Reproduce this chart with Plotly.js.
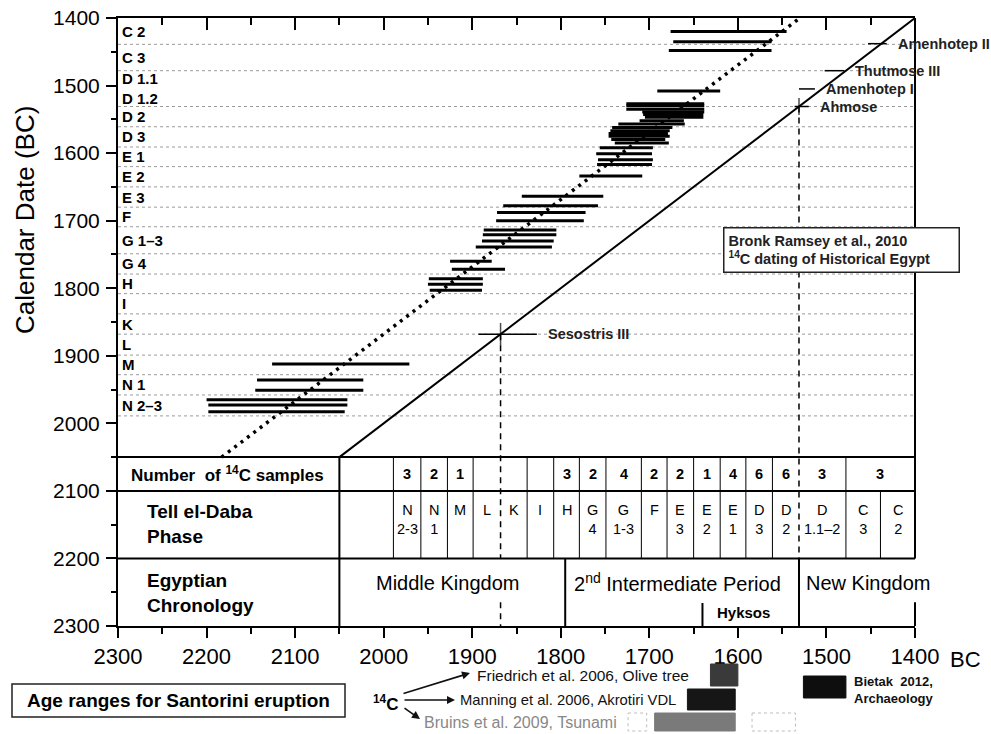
<!DOCTYPE html>
<html><head><meta charset="utf-8">
<script src="https://cdn.plot.ly/plotly-3.0.1.min.js"></script>
<style>html,body{margin:0;padding:0;background:#fff}#chart{width:991px;height:734px}</style>
</head><body><div id="chart"></div>
<script>
// Tell el-Daba phase boundaries (calendar years BC), C 2 at top ... N 2-3 at bottom
const phaseBounds = [1400,1439,1478,1531,1561,1591,1620,1650,1680,1709,1749,1779,1808,1838,1868,1899,1928,1958,1989];
const rowLabels   = ["C 2","C 3","D 1.1<br>D 1.2","D 2","D 3","E 1","E 2","E 3","F","G 1–3","G 4","H","I","K","L","M","N 1","N 2–3"];
const cellLabels  = ["C<br>2","C<br>3","D<br>1.1–2","D<br>2","D<br>3","E<br>1","E<br>2","E<br>3","F","G<br>1-3","G<br>4","H","I","K","L","M","N<br>1","N<br>2-3"];
// number of 14C samples (C 2 + C 3 merged)
const countBounds = [1400,1478,1531,1561,1591,1620,1650,1680,1709,1749,1779,1808,1838,1868,1899,1928,1958,1989];
const counts      = ["3","3","6","6","4","1","2","2","4","2","3","","","","1","2","3"];

// 14C sample ranges: calendar (historical) date, oldest and youngest 14C date
const sampleCal   = [1420,1435,1448, 1508,1527,1530, 1535,1539,1543,1547,1552,1557, 1562,1567,1571,1575,1580,1585, 1592,1601,1610,1617, 1634, 1664,1678, 1688,1700, 1714,1721,1730,1739, 1760,1772, 1786,1794,1803, 1912, 1936,1951, 1965,1973,1983];
const sampleOld   = [1676,1673,1678, 1691,1726,1726, 1726,1708,1707,1705,1711,1735, 1742,1744,1746,1746,1743,1739, 1756,1760,1758,1759, 1779, 1844,1865, 1872,1873, 1887,1888,1889,1896, 1925,1923, 1949,1950,1948, 2126, 2143,2145, 2200,2198,2198];
const sampleYoung = [1545,1562,1562, 1620,1638,1638, 1638,1638,1639,1639,1661,1660, 1674,1677,1679,1677,1682,1678, 1696,1697,1696,1697, 1708, 1752,1758, 1772,1774, 1805,1805,1808,1810, 1878,1863, 1888,1888,1889, 1971, 2023,2023, 2041,2041,2044];

// 1:1 line and Tell el-Daba trend (dotted)
const diagX = [2050,1400], diagY = [2050,1400];
const dotX  = [2183,1530], dotY  = [2050,1400];

// Bronk Ramsey et al. 2010 kings
const kings     = ["Sesostris III","Ahmose","Amenhotep I","Thutmose III","Amenhotep II"];
const kingCal   = [1868,1531,1505,1478,1438];
const kingOld   = [1893,1536,1531,1502,1453];
const kingYoung = [1827,1520,1513,1480,1432];
const kingCross = [16,12,0,0,0];

// Egyptian chronology
const periodNames  = ["Middle Kingdom","2<sup>nd</sup> Intermediate Period","New Kingdom"];
const periodBounds = [2050,1795,1531,1400];
const periodTextX  = [1928,1668,1453];
const hyksosStart  = 1640;

// Santorini eruption age ranges
const rangeNames = ["Friedrich","Manning","Bruins a","Bruins b","Bruins c","Bietak"];
const rangeOld   = [1631,1657,1724,1694,1584,1526];
const rangeYoung = [1600,1603,1703,1603,1535,1478];

const BLK = '#000';
const sx=[], sy=[];
for (let i=0;i<sampleCal.length;i++){ sx.push(sampleOld[i],sampleYoung[i],null); sy.push(sampleCal[i],sampleCal[i],null); }
const kx=[], ky=[];
for (let i=0;i<kings.length;i++){ kx.push(kingOld[i],kingYoung[i],null); ky.push(kingCal[i],kingCal[i],null); }
const cx=[], cy=[], cs=[];
for (let i=0;i<kings.length;i++){ if(kingCross[i]){ cx.push(kingCal[i]); cy.push(kingCal[i]); cs.push(kingCross[i]); } }

const traces = [
  {x:sx, y:sy, mode:'lines', line:{color:BLK,width:3}, hoverinfo:'skip'},
  {x:diagX, y:diagY, mode:'lines', line:{color:BLK,width:2}, hoverinfo:'skip'},
  {x:dotX, y:dotY, mode:'lines', line:{color:BLK,width:3.5,dash:'3px,5px'}, hoverinfo:'skip', xaxis:'x2'},
  {x:kx, y:ky, mode:'lines', line:{color:BLK,width:1.5}, hoverinfo:'skip'},
  {x:cx, y:cy, mode:'markers', marker:{symbol:'line-ns-open', size:cs, color:BLK, line:{color:BLK,width:1.5}}, hoverinfo:'skip'}
];

const shapes = [];
const L = (o)=>shapes.push(Object.assign({type:'line', xref:'x', yref:'y', line:{color:BLK,width:1}}, o));
for (let i=1;i<phaseBounds.length;i++) L({x0:2300,x1:1400,y0:phaseBounds[i],y1:phaseBounds[i],line:{color:'#9a9a9a',width:1,dash:'dot'},layer:'below'});
[2050,2100,2200].forEach(v=>L({x0:2300,x1:1400,y0:v,y1:v,line:{color:BLK,width:2}}));
L({x0:2050,x1:2050,y0:2050,y1:2300,line:{color:BLK,width:2}});
countBounds.slice(1).forEach(b=>{ if(b!==1868 && b!==1531) L({x0:b,x1:b,y0:2050,y1:2100}); });
phaseBounds.slice(1).forEach(b=>{ if(b!==1868 && b!==1531) L({x0:b,x1:b,y0:2100,y1:2200}); });
L({x0:1868,x1:1868,y0:1868,y1:2200,line:{color:BLK,width:1.5,dash:'6px,5px'}});
L({x0:1868,x1:1868,y0:2265,y1:2300,line:{color:BLK,width:1.5,dash:'6px,5px'}});
L({x0:1531,x1:1531,y0:1531,y1:2200,line:{color:BLK,width:1.5,dash:'6px,5px'}});
L({x0:periodBounds[2],x1:periodBounds[2],y0:2200,y1:2300,line:{color:BLK,width:2}});
L({x0:periodBounds[1],x1:periodBounds[1],y0:2200,y1:2300,line:{color:BLK,width:2}});
L({x0:hyksosStart,x1:hyksosStart,y0:2266,y1:2300,line:{color:BLK,width:2}});
shapes.push({type:'line',xref:'paper',yref:'y',x0:1,x1:1,y0:1400,y1:2200,line:{color:BLK,width:2}});
shapes.push({type:'line',xref:'paper',yref:'y',x0:1,x1:1,y0:2265,y1:2300,line:{color:BLK,width:2}});

// bottom legend
const py = p => (626-p)/608, px = p => (p-118)/797;
shapes.push({type:'rect',xref:'paper',yref:'paper',x0:px(12),x1:px(345),y0:py(684),y1:py(717),line:{color:'#222',width:1.5},fillcolor:'#fff'});
const rectY = [[664,686],[689,710],[713,731],[713,731],[713,731],[676,698]];
const rectFill = ['#3a3a3a','#161616','#ffffff','#7a7a7a','#ffffff','#0e0e0e'];
const rectLine = ['#3a3a3a','#161616','#bdbdbd','#7a7a7a','#bdbdbd','#0e0e0e'];
for (let i=0;i<rangeNames.length;i++){
  shapes.push({type:'rect',xref:'x',yref:'paper',x0:rangeOld[i],x1:rangeYoung[i],y0:py(rectY[i][0]),y1:py(rectY[i][1]),fillcolor:rectFill[i],line:{color:rectLine[i],width:1,dash:(rectFill[i]==='#ffffff'?'dot':'solid')}});
}

const F = 'Liberation Sans, Arial, sans-serif';
const FN = 'Liberation Sans Narrow, Arial Narrow, Liberation Sans, Arial, sans-serif';
const ann = [];
const A = (o)=>ann.push(Object.assign({xref:'x',yref:'y',showarrow:false,xanchor:'center',yanchor:'middle',font:{family:F,size:13,color:BLK}}, o));

for (let i=0;i<rowLabels.length;i++) A({x:2300,y:(phaseBounds[i]+(phaseBounds[i+1]||2019))/2,text:rowLabels[i],xanchor:'left',xshift:2,align:'left',font:{family:F,size:15,color:BLK,weight:'bold'}});
for (let i=0;i<cellLabels.length;i++) A({x:(phaseBounds[i]+(phaseBounds[i+1]||2019))/2,y:2113,yanchor:'top',text:cellLabels[i],font:{family:F,size:14.5,color:BLK}});
for (let i=0;i<counts.length;i++) if(counts[i]) A({x:(countBounds[i]+countBounds[i+1])/2,y:2075,text:counts[i],font:{family:F,size:14.5,color:BLK,weight:'bold'}});
A({x:2176,y:2075,text:'Number\u00a0\u00a0of <sup>14</sup>C samples',font:{family:F,size:17,color:BLK,weight:'bold'}});
A({x:2270,y:2130,text:'Tell el-Daba',xanchor:'left',font:{family:F,size:19,color:BLK,weight:'bold'}});
A({x:2270,y:2168,text:'Phase',xanchor:'left',font:{family:F,size:19,color:BLK,weight:'bold'}});
A({x:2270,y:2232,text:'Egyptian',xanchor:'left',font:{family:F,size:19,color:BLK,weight:'bold'}});
A({x:2270,y:2269,text:'Chronology',xanchor:'left',font:{family:F,size:19,color:BLK,weight:'bold'}});
for (let i=0;i<periodNames.length;i++) A({x:periodTextX[i],y:2236,text:periodNames[i],font:{family:F,size:20,color:BLK}});
A({x:1594,y:2280,text:'Hyksos',font:{family:F,size:15,color:BLK,weight:'bold'}});
for (let i=0;i<kings.length;i++) A({x:kingYoung[i],y:kingCal[i],text:kings[i],xanchor:'left',xshift:9,font:{family:F,size:14.5,color:'#222',weight:'bold'}});
A({x:1483,y:1743,text:'Bronk Ramsey et al., 2010<br><sup>14</sup>C dating of Historical Egypt',align:'left',bgcolor:'#fff',bordercolor:'#222',borderwidth:1.5,borderpad:4,width:226,font:{family:F,size:14.5,color:'#222',weight:'bold'}});

const P = (o)=>ann.push(Object.assign({xref:'paper',yref:'paper',showarrow:false,xanchor:'center',yanchor:'middle'}, o));
P({x:px(25),y:py(220),text:'Calendar Date (BC)',textangle:-90,font:{family:F,size:26,color:BLK}});
P({x:px(965),y:py(659),text:'BC',font:{family:FN,size:22,color:BLK}});
P({x:px(178),y:py(700),text:'Age ranges for Santorini eruption',font:{family:FN,size:19,color:BLK,weight:'bold'}});
P({x:px(386),y:py(703),text:'<sup>14</sup>C',font:{family:F,size:17,color:BLK,weight:'bold'}});
P({x:px(475),y:py(675),xanchor:'left',text:'Friedrich et al. 2006, Olive tree',font:{family:FN,size:15.5,color:'#111'}});
P({x:px(458),y:py(700),xanchor:'left',text:'Manning et al. 2006, Akrotiri VDL',font:{family:FN,size:14.8,color:'#111'}});
P({x:px(422),y:py(722),xanchor:'left',text:'Bruins et al. 2009, Tsunami',font:{family:FN,size:16,color:'#888'}});
P({x:px(852),y:py(690),xanchor:'left',align:'left',text:'Bietak\u00a0 2012,<br>Archaeology',font:{family:FN,size:13,color:'#111',weight:'bold'}});
const AR = (o)=>ann.push(Object.assign({xref:'paper',yref:'paper',text:'',showarrow:true,arrowhead:2,arrowsize:1,arrowwidth:1.6,arrowcolor:'#111'}, o));
AR({x:px(470),y:py(673),ax:-68,ay:21});
AR({x:px(455),y:py(700),ax:-52,ay:0});
AR({x:px(420),y:py(719),ax:-17,ay:-12});

const layout = {
  width:991, height:734,
  margin:{l:118,r:76,t:18,b:108},
  paper_bgcolor:'#fff', plot_bgcolor:'#fff', showlegend:false,
  font:{family:F,color:BLK},
  xaxis:{range:[2300,1400], tick0:1400, dtick:100, ticks:'outside', ticklen:10, tickwidth:2, tickcolor:BLK,
         showline:true, linewidth:2, linecolor:BLK, showgrid:false, zeroline:false,
         tickfont:{family:FN,size:22,color:BLK}, ticklabelstandoff:0,
         minor:{dtick:50, ticks:'outside', ticklen:6, tickwidth:2, tickcolor:BLK, showgrid:false}},
  xaxis2:{overlaying:'x', side:'top', range:[2300,1400], tick0:1400, dtick:100, ticks:'inside', ticklen:12, tickwidth:2, tickcolor:BLK,
         showticklabels:false, showline:true, linewidth:2, linecolor:BLK, showgrid:false, zeroline:false,
         minor:{dtick:50, ticks:'inside', ticklen:7, tickwidth:2, tickcolor:BLK, showgrid:false}},
  yaxis:{range:[2300,1400], tick0:1400, dtick:100, ticks:'outside', ticklen:10, tickwidth:2, tickcolor:BLK,
         showline:true, linewidth:2, linecolor:BLK, showgrid:false, zeroline:false,
         tickfont:{family:F,size:21,color:BLK}, ticklabelstandoff:2,
         minor:{dtick:50, ticks:'outside', ticklen:5, tickwidth:2, tickcolor:BLK, showgrid:false}},
  shapes:shapes, annotations:ann
};
Plotly.newPlot('chart', traces, layout, {staticPlot:true});
</script></body></html>
